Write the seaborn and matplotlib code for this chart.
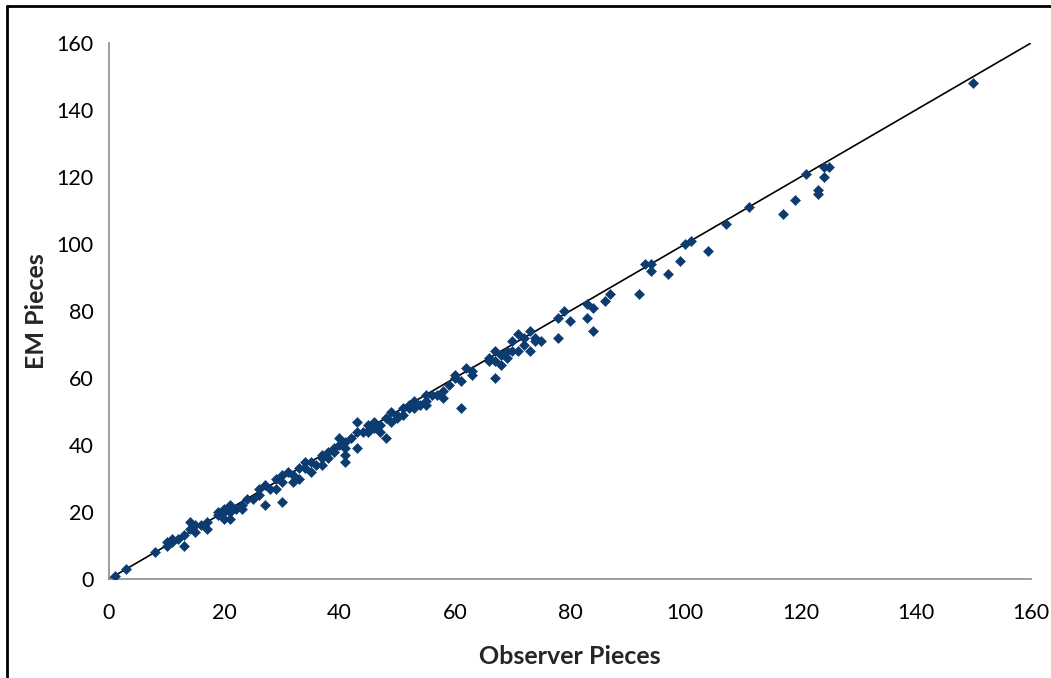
import matplotlib
matplotlib.use("Agg")
import matplotlib.pyplot as plt
from matplotlib.lines import Line2D
import seaborn as sns
import pandas as pd

# Piece counts per sample: observer count vs. EM count
observer_pieces = [
    1, 3, 8, 10, 10, 11, 11, 12, 13, 13, 14, 14, 15, 15, 16, 17, 17, 19, 19, 20,
    20, 20, 21, 21, 21, 22, 23, 23, 24, 25, 26, 26, 27, 27, 28, 29, 29, 30, 30, 30,
    31, 32, 32, 33, 33, 34, 34, 35, 35, 36, 37, 37, 37, 38, 38, 39, 39, 40, 40, 41,
    41, 41, 41, 42, 43, 43, 43, 44, 45, 45, 46, 46, 47, 47, 48, 48, 49, 49, 50, 50,
    51, 51, 52, 52, 53, 53, 54, 55, 55, 55, 56, 57, 58, 58, 59, 60, 60, 61, 61, 62,
    63, 63, 66, 66, 67, 67, 67, 68, 68, 69, 69, 70, 70, 71, 71, 72, 72, 73, 73, 74,
    74, 75, 78, 78, 79, 80, 83, 83, 84, 84, 86, 87, 92, 93, 94, 94, 97, 99, 100, 101,
    104, 107, 111, 117, 119, 121, 123, 123, 124, 124, 125, 150,
]
em_pieces = [
    1, 3, 8, 11, 10, 12, 11, 12, 13, 10, 17, 15, 16, 14, 16, 17, 15, 20, 19, 21,
    20, 18, 22, 20, 18, 21, 21, 22, 24, 24, 27, 25, 22, 28, 27, 30, 27, 31, 29, 23,
    32, 31, 29, 33, 30, 35, 33, 35, 32, 34, 37, 34, 36, 38, 36, 38, 39, 42, 40, 41,
    39, 37, 35, 42, 47, 44, 39, 44, 46, 44, 47, 45, 44, 46, 48, 42, 50, 47, 49, 48,
    51, 49, 52, 51, 51, 53, 52, 55, 53, 52, 55, 55, 54, 56, 58, 61, 60, 59, 51, 63,
    62, 61, 66, 65, 68, 65, 60, 67, 64, 68, 66, 71, 68, 73, 68, 72, 70, 74, 68, 72,
    71, 71, 78, 72, 80, 77, 82, 78, 81, 74, 83, 85, 85, 94, 94, 92, 91, 95, 100, 101,
    98, 106, 111, 109, 113, 121, 116, 115, 120, 123, 123, 148,
]

axis_ticks = [0, 20, 40, 60, 80, 100, 120, 140, 160]
identity_line = [0, 160]

df = pd.DataFrame({"Observer Pieces": observer_pieces, "EM Pieces": em_pieces})

sns.set_style("white")
plt.rcParams["font.family"] = ["Lato", "DejaVu Sans"]

fig = plt.figure(figsize=(10.51, 6.78), dpi=100)
ax = fig.add_axes([0.1037, 0.146, 0.8773, 0.7906])

sns.lineplot(x=identity_line, y=identity_line, ax=ax, color="black",
             linewidth=1.2, zorder=2)
sns.scatterplot(data=df, x="Observer Pieces", y="EM Pieces", ax=ax,
                marker="D", s=26, color="#0B3B6F", edgecolor="#0B3B6F",
                linewidth=0.4, zorder=3)

ax.set_xlim(0, 160)
ax.set_ylim(0, 160)
ax.set_xticks(axis_ticks)
ax.set_yticks(axis_ticks)
ax.tick_params(axis="both", which="both", direction="out", length=5,
               width=1.1, color="#8c8c8c", labelsize=15.5, labelcolor="black",
               pad=6)
ax.tick_params(axis="x", pad=12)
for side in ("top", "right"):
    ax.spines[side].set_visible(False)
for side in ("left", "bottom"):
    ax.spines[side].set_color("#8c8c8c")
    ax.spines[side].set_linewidth(1.2)

ax.set_xlabel("Observer Pieces", fontsize=18, fontweight="bold", labelpad=16)
ax.set_ylabel("EM Pieces", fontsize=18, fontweight="bold", labelpad=6)

# Outer frame: top and left edges only
fig.add_artist(Line2D([7 / 1051, 1.0], [1 - 6 / 678, 1 - 6 / 678],
                      transform=fig.transFigure, color="black", linewidth=2))
fig.add_artist(Line2D([7 / 1051, 7 / 1051], [0.0, 1 - 6 / 678],
                      transform=fig.transFigure, color="black", linewidth=2))

fig.savefig("out.png", dpi=100)
